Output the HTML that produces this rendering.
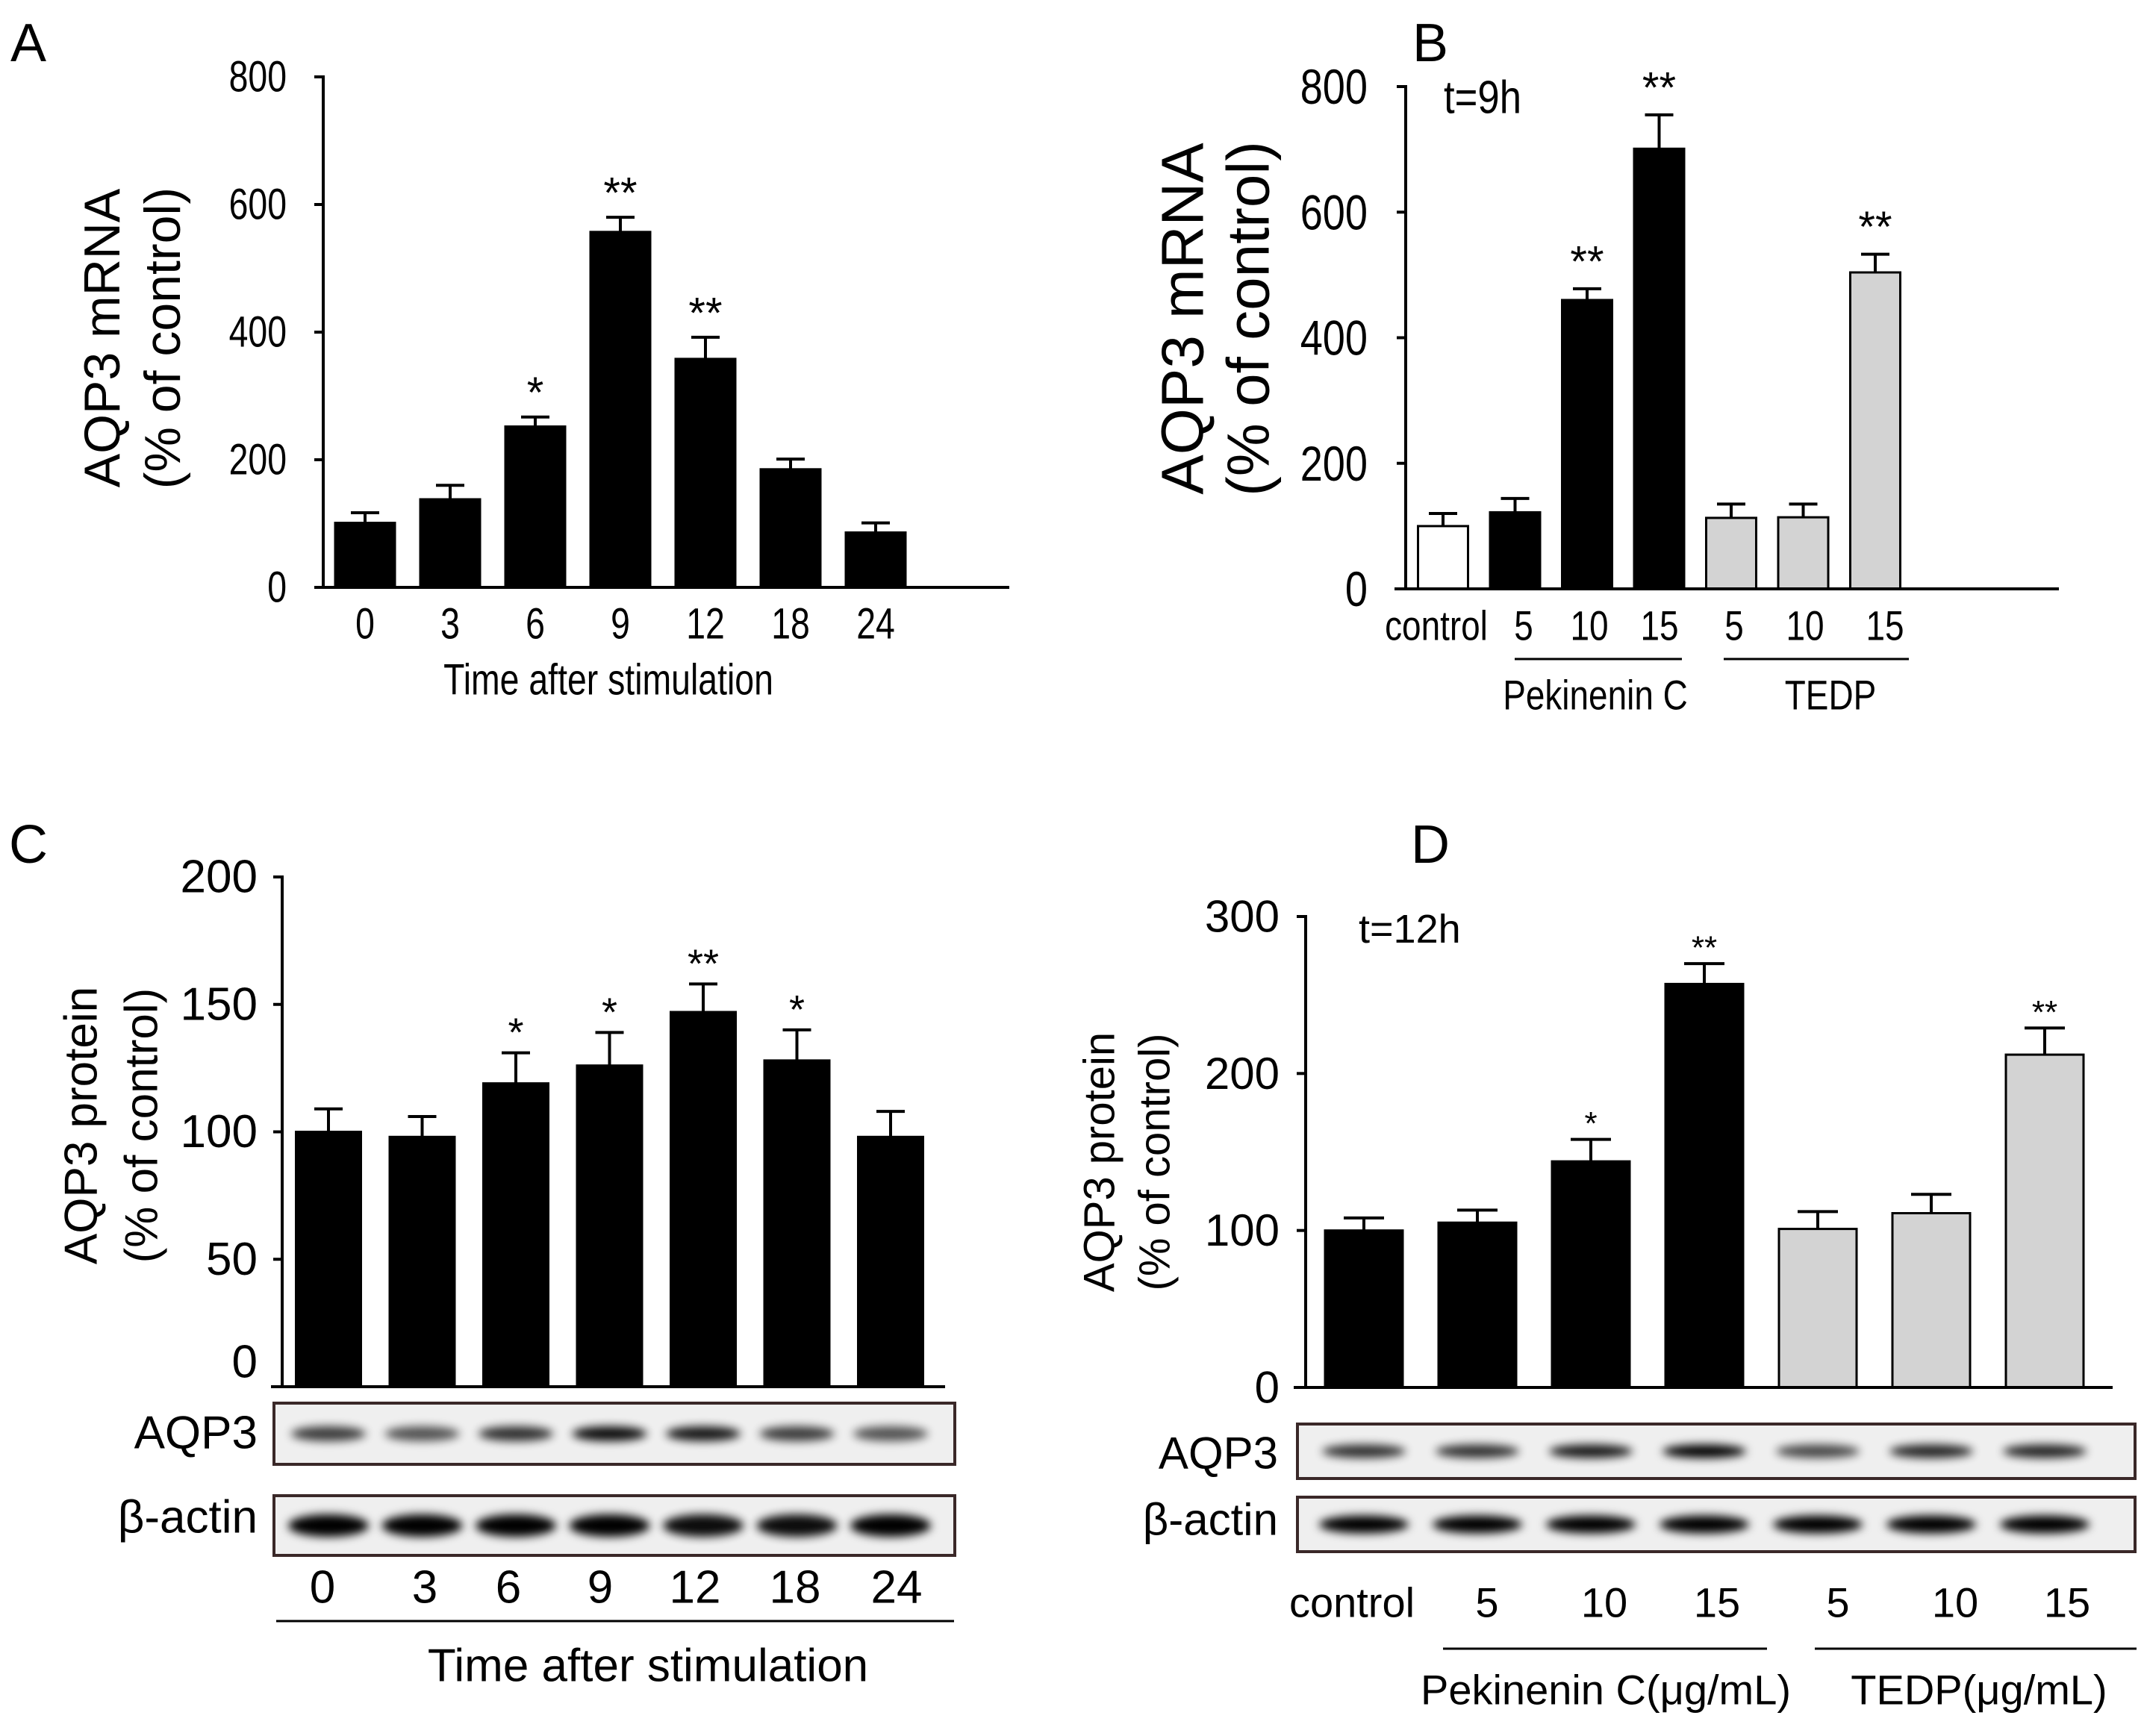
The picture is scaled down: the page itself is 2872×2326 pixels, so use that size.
<!DOCTYPE html>
<html><head><meta charset="utf-8">
<style>
html,body{margin:0;padding:0;background:#fff;}
svg{display:block;}
text{font-family:"Liberation Sans",Arial,sans-serif;fill:#000;}
</style></head>
<body>
<svg id="fig" width="2872" height="2326" viewBox="0 0 2872 2326" xmlns="http://www.w3.org/2000/svg">
<defs>
<filter id="blur6" x="-30%" y="-100%" width="160%" height="300%"><feGaussianBlur stdDeviation="6"/></filter>
</defs>
</svg>
<script>
// ---------- DATA ----------
const catsA = ["0","3","6","9","12","18","24"];
const valsA = [101,138,252,557,358,185,86];
const errsA = [117,160,267,580,392,201,101];
const starsA = ["","","*","**","**","",""];
const ticksA = [0,200,400,600,800];

const catsB = ["control","5","10","15","5","10","15"];
const valsB = [100,122,460,701,113,114,504];
const errsB = [120,144,478,755,135,135,533];
const starsB = ["","","**","**","","","**"];
const ticksB = [0,200,400,600,800];

const catsC = ["0","3","6","9","12","18","24"];
const valsC = [100,98,119,126,147,128,98];
const errsC = [109,106,131,139,158,140,108];
const starsC = ["","","*","*","**","*",""];
const ticksC = [0,50,100,150,200];

const catsD = ["control","5","10","15","5","10","15"];
const valsD = [100,105,144,257,101,111,212];
const errsD = [108,113,158,270,112,123,229];
const starsD = ["","","*","**","","","**"];
const ticksD = [0,100,200,300];

// blot band intensities (0..1) per lane
const blotC_aqp3 = [0.75,0.65,0.8,0.95,0.9,0.75,0.65];
const blotC_actin = [1,1,1,1,0.95,0.95,1];
const blotD_aqp3 = [0.8,0.8,0.9,1,0.7,0.85,0.85];
const blotD_actin = [1,1,1,1,1,1,1];

// ---------- HELPERS ----------
const NS = "http://www.w3.org/2000/svg";
const svg = document.getElementById("fig");
function mk(tag, attrs, parent){
  const e = document.createElementNS(NS, tag);
  for (const k in attrs) e.setAttribute(k, attrs[k]);
  (parent||svg).appendChild(e);
  return e;
}
function txt(parent, x, y, s, fs, anchor, narrow, rot){
  const t = mk("text", {x:x, y:y, "font-size":fs, "text-anchor":anchor||"middle", "dominant-baseline":"central"}, parent);
  t.textContent = s;
  if (rot) t.setAttribute("transform", "rotate(-90 "+x+" "+y+")");
  if (narrow){
    const L = t.getComputedTextLength();
    t.setAttribute("textLength", (L*narrow).toFixed(1));
    t.setAttribute("lengthAdjust", "spacingAndGlyphs");
  }
  return t;
}

function panel(cfg){
  const g = mk("g", {});
  
  
  const ys = v => cfg.y0 - (v/cfg.max)*(cfg.y0-cfg.yTop);
  const xs = i => cfg.c0 + i*cfg.pitch;
  // bars
  cfg.vals.forEach((v,i)=>{
    const r = mk("rect", {x:(xs(i)-cfg.bw/2).toFixed(1), y:ys(v).toFixed(1), width:cfg.bw, height:(cfg.y0-ys(v)).toFixed(1),
      fill:cfg.fills[i], stroke:"#000", "stroke-width":3}, g);
    
    
    const e = mk("line", {x1:xs(i), x2:xs(i), y1:ys(v), y2:ys(cfg.errs[i]), stroke:"#000", "stroke-width":4}, g);
    
    
    mk("line", {x1:xs(i), x2:xs(i)+cfg.cap/2, y1:ys(cfg.errs[i]), y2:ys(cfg.errs[i]), stroke:"#000", "stroke-width":4}, g);
    mk("line", {x1:xs(i)-cfg.cap/2, x2:xs(i), y1:ys(cfg.errs[i]), y2:ys(cfg.errs[i]), stroke:"#000", "stroke-width":4}, g);
    if (cfg.stars[i]){
      const s = txt(g, xs(i), ys(cfg.errs[i]) - cfg.starOff, cfg.stars[i], cfg.starFs, "middle");
      
      
    }
    if (cfg.cats){
      const l = txt(g, (cfg.catX? cfg.catX[i] : xs(i)), cfg.catY, cfg.cats[i], cfg.catFs, "middle", cfg.narrow);
      
      
    }
  });
  // axes
  const ya = mk("line", {x1:cfg.x0, x2:cfg.x0, y1:cfg.yTop-2, y2:cfg.y0+2, stroke:"#000", "stroke-width":4}, g);
  
  
  const xa = mk("line", {x1:cfg.xl, x2:cfg.xr, y1:cfg.y0, y2:cfg.y0, stroke:"#000", "stroke-width":4}, g);
  
  
  cfg.ticks.forEach(v=>{
    mk("line", {x1:cfg.x0-12, x2:cfg.x0, y1:ys(v), y2:ys(v), stroke:"#000", "stroke-width":4}, g);
    const dy = (v===0 && cfg.zeroOff) ? cfg.zeroOff : 0;
    const l = txt(g, cfg.tickR, ys(v)+dy, String(v), cfg.tickFs, "end", cfg.narrow);
    
    
  });
  return {g, xs, ys};
}

function blot(x, y, w, h, centers, ints, bandH, bandW, name){
  const g = mk("g", {});
  
  
  mk("rect", {x:x, y:y, width:w, height:h, fill:"#efefef", stroke:"#3a2828", "stroke-width":4}, g);
  centers.forEach((c,i)=>{
    const b = mk("ellipse", {cx:c, cy:y+h/2, rx:bandW/2, ry:bandH/2, fill:"#000", opacity:ints[i].toFixed(2), filter:"url(#blur6)"}, g);
    
    
  });
}

// ---------- PANEL A ----------
const A = panel({name:"panel-a", x0:433, y0:787, yTop:103, max:800, xl:421, xr:1352,
  c0:489, pitch:114, bw:80, cap:38, vals:valsA, errs:errsA, fills:valsA.map(()=>"#000"),
  stars:starsA, starOff:32, starFs:58, cats:catsA, catY:836, catFs:58, narrow:0.8,
  ticks:ticksA, tickR:384, tickFs:58});
txt(A.g, 815, 911, "Time after stimulation", 58, "middle", 0.8);
txt(A.g, 137, 453, "AQP3 mRNA", 68, "middle", 0, true);
txt(A.g, 218, 453, "(% of control)", 68, "middle", 0, true);
txt(A.g, 14, 58, "A", 72, "start");

// ---------- PANEL B ----------
const B = panel({name:"panel-b", x0:1883, y0:789, yTop:116, max:800, xl:1868, xr:2758,
  c0:1933, pitch:96.5, bw:67, cap:38, vals:valsB, errs:errsB,
  fills:["#fff","#000","#000","#000","#d3d3d3","#d3d3d3","#d3d3d3"],
  stars:starsB, starOff:36, starFs:58, cats:catsB, catY:838, catFs:56, narrow:0.82,
  catX:[1924,2041,2129,2223,2323,2418,2525],
  ticks:ticksB, tickR:1832, tickFs:66});
mk("line",{x1:2029,x2:2253,y1:883,y2:883,stroke:"#000","stroke-width":3},B.g);
mk("line",{x1:2309,x2:2557,y1:883,y2:883,stroke:"#000","stroke-width":3},B.g);
txt(B.g, 2137, 931, "Pekinenin C", 56, "middle", 0.82);
txt(B.g, 2452, 931, "TEDP", 56, "middle", 0.82);
txt(B.g, 1934, 131, "t=9h", 62, "start", 0.85);
txt(B.g, 1584, 427, "AQP3 mRNA", 80, "middle", 0, true);
txt(B.g, 1672, 427, "(% of control)", 80, "middle", 0, true);
txt(B.g, 1892, 58, "B", 72, "start");

// ---------- PANEL C ----------
const C = panel({name:"panel-c", x0:378, y0:1858, yTop:1175, max:200, xl:363, xr:1266,
  c0:440, pitch:125.5, bw:87, cap:38, vals:valsC, errs:errsC, fills:valsC.map(()=>"#000"),
  stars:starsC, starOff:27, starFs:54, cats:null,
  ticks:ticksC, tickR:345, tickFs:62, zeroOff:-33});
const cxC = catsC.map((_,i)=>C.xs(i));
blot(367, 1880, 912, 82, cxC, blotC_aqp3, 20, 100, "blot-c-aqp3");
blot(367, 2004, 912, 80, cxC, blotC_actin, 30, 108, "blot-c-actin");
txt(C.g, 345, 1920, "AQP3", 62, "end");
txt(C.g, 345, 2033, "β-actin", 62, "end");
[432,569,681,804,931,1065,1201].forEach((x,i)=>{
  const l = txt(C.g, x, 2127, catsC[i], 62, "middle");
  
  
});
mk("line",{x1:370,x2:1278,y1:2172,y2:2172,stroke:"#000","stroke-width":3},C.g);
txt(C.g, 868, 2232, "Time after stimulation", 62, "middle");
txt(C.g, 109, 1508, "AQP3 protein", 62, "middle", 0, true);
txt(C.g, 190, 1508, "(% of control)", 62, "middle", 0, true);
txt(C.g, 12, 1132, "C", 72, "start");

// ---------- PANEL D ----------
const D = panel({name:"panel-d", x0:1749, y0:1859, yTop:1228, max:300, xl:1733, xr:2830,
  c0:1827, pitch:152, bw:104, cap:54, vals:valsD, errs:errsD,
  fills:["#000","#000","#000","#000","#d3d3d3","#d3d3d3","#d3d3d3"],
  stars:starsD, starOff:21, starFs:44, cats:null,
  ticks:ticksD, tickR:1714, tickFs:60});
const cxD = catsD.map((_,i)=>D.xs(i));
blot(1738, 1908, 1122, 73, cxD, blotD_aqp3, 18, 112, "blot-d-aqp3");
blot(1738, 2006, 1122, 73, cxD, blotD_actin, 24, 120, "blot-d-actin");
txt(D.g, 1712, 1947, "AQP3", 60, "end");
txt(D.g, 1712, 2036, "β-actin", 60, "end");
[1811,1992,2149,2300,2462,2619,2769].forEach((x,i)=>{
  const l = txt(D.g, x, 2147, catsD[i], 56, "middle");
  
  
});
mk("line",{x1:1933,x2:2367,y1:2209,y2:2209,stroke:"#000","stroke-width":3},D.g);
mk("line",{x1:2431,x2:2862,y1:2209,y2:2209,stroke:"#000","stroke-width":3},D.g);
txt(D.g, 2151, 2264, "Pekinenin C(μg/mL)", 56, "middle");
txt(D.g, 2651, 2264, "TEDP(μg/mL)", 56, "middle");
txt(D.g, 1820, 1245, "t=12h", 54, "start");
txt(D.g, 1473, 1557, "AQP3 protein", 58, "middle", 0, true);
txt(D.g, 1547, 1557, "(% of control)", 58, "middle", 0, true);
txt(D.g, 1890, 1132, "D", 72, "start");
</script>
</body></html>
